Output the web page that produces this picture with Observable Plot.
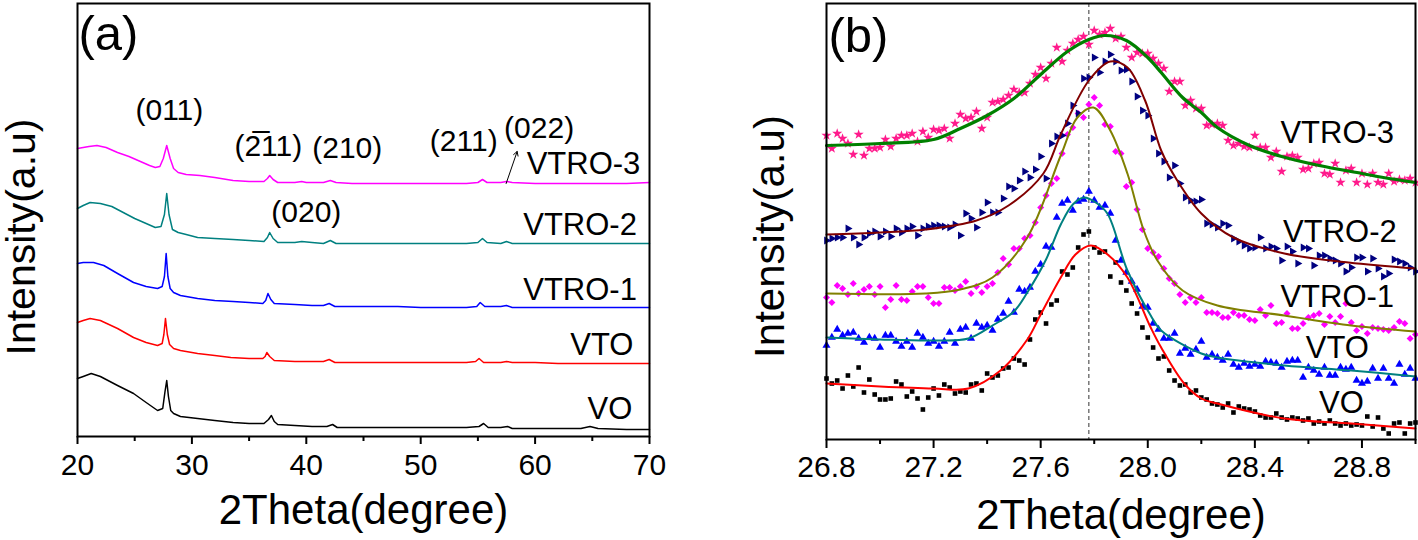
<!DOCTYPE html>
<html><head><meta charset="utf-8">
<script src="https://cdn.jsdelivr.net/npm/d3@7"></script>
<script src="https://cdn.jsdelivr.net/npm/@observablehq/plot@0.6"></script>
<style>
body{margin:0;background:#fff;}
#wrap{display:flex;width:1418px;height:540px;background:#fff;}
#wrap > *{flex:none;}
</style></head><body><div id="wrap"></div>
<script>
const FONT = "'Liberation Sans', Arial, Helvetica, sans-serif";

// ---------- Panel (a): XRD patterns, [2theta, stacked intensity] ----------
const xrdVTRO3 = [[20,288],[20.5,289],[21,290],[21.7,291],[22.5,289],[23.5,284],[24.5,280],[25.5,275],[26.3,271],[26.8,269],[27.2,270],[27.5,278],[27.8,291],[28.1,278],[28.4,268],[28.8,264],[29.5,262],[30.7,261],[32,259],[33.6,256],[35,255],[36.3,255],[36.6,258],[36.8,261],[37.1,257],[37.5,254],[39,254],[39.6,255],[40,254],[41.5,254],[42.1,256],[42.6,254],[44,253],[46,253],[48,253],[50,253],[52,253],[54,253],[55,254],[55.4,257],[55.8,254],[57,254],[57.5,255],[58,254],[60,253],[62,253],[64,253],[66,253],[68,253],[70,254]];
const xrdVTRO2 = [[20,228],[20.5,231],[21.1,234],[22,233],[23,230],[24,224],[25,218],[26,213],[26.8,209],[27.3,210],[27.6,222],[27.8,243],[28,222],[28.3,207],[28.8,204],[29.5,202],[30.5,199],[32,198],[33.6,197],[35,196],[36.3,195],[36.6,199],[36.8,204],[37.1,198],[37.5,194],[39,194],[39.6,195],[40.5,194],[41.5,193],[42.1,196],[42.6,193],[44,193],[46,193],[48,193],[50,193],[52,193],[54,193],[55,194],[55.4,198],[55.8,194],[57,193],[57.5,195],[58,193],[60,193],[62,193],[64,193],[66,193],[68,193],[70,193]];
const xrdVTRO1 = [[20,173],[20.5,174],[21.4,174],[22.3,171],[23.5,163],[24.9,154],[26,150],[27,148],[27.4,150],[27.6,160],[27.75,183],[27.9,160],[28.1,148],[28.4,144],[29,141],[30.5,138],[32,136],[33.6,135],[35,134],[36.2,133],[36.45,136],[36.65,143],[36.9,137],[37.2,133],[39,132],[40.5,131],[41.5,131],[42,133],[42.5,130],[44,130],[46,130],[48,130],[50,129],[52,129],[54,129],[54.9,130],[55.2,134],[55.6,130],[57,130],[57.5,131],[58,129],[60,129],[62,129],[64,129],[66,129],[68,129],[70,129]];
const xrdVTO = [[20,114],[20.5,116],[21.1,118],[22,116],[23.5,108],[24.9,99],[26,94],[27,91],[27.4,93],[27.55,102],[27.69,118],[27.85,102],[28.05,92],[28.4,88],[29,86],[30.5,83],[32,81],[33.4,79],[35,78],[36.2,78],[36.4,80],[36.55,84],[36.8,80],[37.2,76],[39,75],[40.5,75],[41.5,75],[42,77],[42.5,74],[44,74],[46,74],[48,74],[50,74],[52,74],[54,74],[54.8,75],[55.1,78],[55.5,74],[57,74],[57.5,75],[58,74],[60,74],[62,73],[64,73],[66,73],[68,73],[70,73]];
const xrdVO = [[20,58],[20.5,60],[21.2,63],[22,60],[23.5,51],[24.9,43],[26,34],[27,26],[27.45,28],[27.65,45],[27.8,56],[27.95,40],[28.15,26],[28.4,23],[29,20],[30.5,18],[32,16],[33.6,14],[35,13],[36.3,13],[36.7,17],[36.95,21],[37.2,15],[37.5,12],[39,11],[40.5,10],[41.8,10],[42.3,12],[42.7,9],[44,9],[46,9],[48,9],[50,9],[52,9],[54,9],[55.1,10],[55.5,13],[55.9,9],[57,9],[57.6,10],[58,8],[60,8],[62,8],[64,8],[64.8,10],[65.5,8],[68,7],[70,7]];

const ticksA = [20,30,40,50,60,70];
const minorTicksA = [25,35,45,55,65];
const sampleNamesA = ["VTRO-3","VTRO-2","VTRO-1","VTO","VO"];
const sampleLabelXA = [69.2,68.9,68.9,68.6,68.5];
const sampleLabelYA = [272,211,146,91,27];
const peakTextA = ["(011)","(2\u030511)","(210)","(020)","(211)","(022)"];
const peakXA = [28.03,36.68,43.58,40.0,53.76,60.35];
const peakYA = [326,290,288,224,295,308];
const arrow022 = [{x1:57.47,y1:253,x2:58.43,y2:285}];

// ---------- Panel (b): zoom on (011) peak ----------
const thetaB = [26.80,26.82,26.84,26.86,26.88,26.90,26.92,26.94,26.96,26.98,
27.00,27.02,27.04,27.06,27.08,27.10,27.12,27.14,27.16,27.18,
27.20,27.22,27.24,27.26,27.28,27.30,27.32,27.34,27.36,27.38,
27.40,27.42,27.44,27.46,27.48,27.50,27.52,27.54,27.56,27.58,
27.60,27.62,27.64,27.66,27.68,27.70,27.72,27.74,27.76,27.78,
27.80,27.82,27.84,27.86,27.88,27.90,27.92,27.94,27.96,27.98,
28.00,28.02,28.04,28.06,28.08,28.10,28.12,28.14,28.16,28.18,
28.20,28.22,28.24,28.26,28.28,28.30,28.32,28.34,28.36,28.38,
28.40,28.42,28.44,28.46,28.48,28.50,28.52,28.54,28.56,28.58,
28.60,28.62,28.64,28.66,28.68,28.70,28.72,28.74,28.76,28.78,
28.80,28.82,28.84,28.86,28.88,28.90,28.92,28.94,28.96,28.98,29.00];

const ptsVO = [61,56,59,51,64,53,72,47,60,45, 40,40,41,58,55,43,48,41,30,42, 51,44,55,52,46,48,47,55,56,49, 66,62,64,71,72,81,79,75,100,120, 127,116,135,139,
168,165,172,192,205,208,192,187,188,163, 177,157,149,136,126,112,102,92,81,83, 69,59,54,55,47,49,
42,40,36,35,32,36,27,33,31,30, 28,24,22,22,26,22,20,22,21,19, 21,16,18,16,19,16,14,16,14,15, 14,23,13,22,11,6,16,17,6,16, 17];
const ptsVTO = [94,102,110,104,106,107,101,97,102,101, 92,104,104,98,93,98,92,106,102,96, 98,93,98,107,96,110,
112,101,116,112,114,109,120,126,138,127, 150,148,152,168,175,193,192,222,
236,239,229,238,240,248,239,232,234,226,
199,179,167,158,150,133,132,116,110,101,101,106,
86,91,85,90,98,82,85,82,79,85, 75,72,76,73,75,73,78,77,76,72, 78,79,79,62,72,69,65,72,64,64, 72,70,72,59,56,58,71,61,71,61, 56,75,65,71,61];
const ptsVTRO1 = [142,137,154,151,145,156,146,150,153,145, 153,132,140,154,140,139,148,153,153,142, 136,136,152,152,149,153,158,146,153,147, 153,156,167,181,175,191,191,201,204,217, 232,244,256,261,286,
305,312,326,322,335,342,334,315,313,288, 286,253,257,230,210,191,187,183,
171,161,156,145,137,142,137,142,127,127, 126,122,122,127,124,124,120,119,130,124, 134,116,117,126,111,111,116,122,124,126, 115,123,117,123,136,117,109,113,106,112, 111,110,109,112,118,116,101,105];
const ptsVTRO2 = [199,201,202,202,211,202,195,202,206,208, 203,208,203,211,207,211,213,204,211,213, 214,214,213,212,215,204,
226,221,212,227,237,227,227,241,253,251, 259,268,262,270,283,261,296,303,304,316, 334,326,361,362,382,367,378,385,378,369, 370,358,343,329,324,301,286,278,262,274, 256,
242,239,238,240,216,215,212,216,214,201, 198,194,191,192,202,191,193,191,179,193, 188,176,192,191,174,184,184,181,179,176, 168,172,182,182,168,181,171,163,166,180, 178,176,172,168];
const ptsVTRO3 = [304,291,306,301,296,285,305,284,291,291, 292,300,293,301,304,304,306,298,308,302, 310,309,311,301,316,325,321,322,328,311, 322,337,338,340,344,350,347,347,356,365, 372,361,376,392,
378,389,396,400,403,395,409,405,407,411, 401,403,392,382,387,386,386,381,376,371, 348,358,358,
334,339,331,331,314,315,316,314,299,294, 296,293,292,304,292,292,282,288,268,283, 284,282,270,271,276,277,266,265,276,257, 269,271,257,266,255,266,257,255,266,258, 260,259,261,257];

const fitVO = [[26.8,56],[27.0,53],[27.2,51],[27.33,51],[27.45,69],[27.55,100],[27.6,125],[27.675,162],[27.73,185],[27.787,194],[27.85,185],[27.924,162],[28.011,112],[28.05,92],[28.136,56],[28.2,41],[28.26,36],[28.51,21],[28.76,16],[29.0,11]];
const fitVTO = [[26.8,102],[27.0,100],[27.2,99],[27.33,101],[27.42,114],[27.5,128],[27.55,147],[27.62,180],[27.675,215],[27.72,235],[27.762,242],[27.8,238],[27.849,226],[27.924,169],[28.011,124],[28.05,109],[28.2,86],[28.26,82],[28.51,74],[28.76,69],[29.0,63]];
const fitVTRO1 = [[26.8,146],[27.17,146],[27.3,150],[27.42,162],[27.55,202],[27.675,284],[27.737,322],[27.797,332],[27.86,309],[27.924,266],[27.985,209],[28.036,179],[28.13,149],[28.26,134],[28.51,124],[28.76,114],[29.0,108]];
const fitVTRO2 = [[26.8,205],[27.0,207],[27.17,210],[27.36,219],[27.48,234],[27.61,266],[27.675,305],[27.78,359],[27.86,378],[27.924,372],[27.99,339],[28.05,289],[28.11,259],[28.2,226],[28.32,202],[28.51,186],[28.75,177],[29.0,171]];
const fitVTRO3 = [[26.8,294],[27.0,296],[27.2,300],[27.3,311],[27.4,324],[27.5,341],[27.6,365],[27.7,388],[27.78,400],[27.84,404],[27.92,399],[28.0,382],[28.05,367],[28.13,342],[28.2,327],[28.26,312],[28.38,294],[28.5,283],[28.64,274],[28.8,266],[28.88,262],[29.0,257]];

const ticksB = [26.8,27.2,27.6,28.0,28.4,28.8];
const minorTicksB = [27.0,27.4,27.8,28.2,28.6,29.0];
const refLineB = [27.78];
const sampleNamesB = ["VTRO-3","VTRO-2","VTRO-1","VTO","VO"];
const sampleLabelXB = [28.92,28.93,28.92,28.826,28.807];
const sampleLabelYB = [306,207,142,91,36];

// ---------- build tables ----------
const toRows = pts => pts.map(([x, y]) => ({x, y}));
const scatter = vals => thetaB.map((t, i) => ({x: t, y: vals[i]}));
const labelRows = (names, xs, ys) => names.map((t, i) => ({text: t, x: xs[i], y: ys[i]}));

const panelA = Plot.plot({
  width: 709, height: 540,
  marginLeft: 77, marginRight: 60, marginTop: 3, marginBottom: 104,
  style: {fontFamily: FONT, background: "#fff", color: "#000", overflow: "visible"},
  x: {domain: [20, 70]},
  y: {domain: [0, 433], axis: null},
  marks: [
    Plot.line(toRows(xrdVO), {x: "x", y: "y", stroke: "#000000", strokeWidth: 1.5}),
    Plot.line(toRows(xrdVTO), {x: "x", y: "y", stroke: "#ff0000", strokeWidth: 1.5}),
    Plot.line(toRows(xrdVTRO1), {x: "x", y: "y", stroke: "#0000ff", strokeWidth: 1.5}),
    Plot.line(toRows(xrdVTRO2), {x: "x", y: "y", stroke: "#008080", strokeWidth: 1.5}),
    Plot.line(toRows(xrdVTRO3), {x: "x", y: "y", stroke: "#ff00ff", strokeWidth: 1.5}),
    Plot.frame({stroke: "#000", strokeWidth: 2}),
    Plot.axisX({ticks: ticksA, tickSize: 8, tickPadding: 9, fontSize: 30, strokeWidth: 2, label: null, tickFormat: d => String(d)}),
    Plot.axisX({ticks: minorTicksA, tickSize: 5, strokeWidth: 2, label: null, tickFormat: () => ""}),
    Plot.text(labelRows(sampleNamesA, sampleLabelXA, sampleLabelYA), {x: "x", y: "y", text: "text", textAnchor: "end", fontSize: 31, fill: "#000"}),
    Plot.text(labelRows(peakTextA, peakXA, peakYA), {x: "x", y: "y", text: "text", fontSize: 30, fill: "#000"}),
    Plot.arrow(arrow022, {x1: "x1", y1: "y1", x2: "x2", y2: "y2", stroke: "#000", strokeWidth: 1, headLength: 7}),
    Plot.text(["(a)"], {frameAnchor: "top-left", textAnchor: "start", lineAnchor: "middle", dx: 1, dy: 31, fontSize: 49, fill: "#000"}),
    Plot.text(["2Theta(degree)"], {frameAnchor: "bottom", lineAnchor: "middle", dy: 74, fontSize: 42, fill: "#000"}),
    Plot.text(["Intensity(a.u)"], {frameAnchor: "left", rotate: -90, lineAnchor: "middle", textAnchor: "middle", dx: -56, dy: 17, fontSize: 41, fill: "#000"})
  ]
});

const panelB = Plot.plot({
  width: 709, height: 540,
  marginLeft: 117, marginRight: 3, marginTop: 3, marginBottom: 101,
  style: {fontFamily: FONT, background: "#fff", color: "#000", overflow: "visible"},
  x: {domain: [26.8, 29.0]},
  y: {domain: [0, 436], axis: null},
  marks: [
    Plot.ruleX(refLineB, {stroke: "#333", strokeWidth: 1, strokeDasharray: "4,3"}),
    Plot.dot(scatter(ptsVO), {x: "x", y: "y", symbol: "square", r: 2.6, fill: "#000000", stroke: "none"}),
    Plot.dot(scatter(ptsVTO), {x: "x", y: "y", symbol: "triangle", r: 3, fill: "#0000ff", stroke: "none"}),
    Plot.dot(scatter(ptsVTRO1), {x: "x", y: "y", symbol: "square", rotate: 45, r: 2.8, fill: "#ff00ff", stroke: "none"}),
    Plot.dot(scatter(ptsVTRO2), {x: "x", y: "y", symbol: "triangle", rotate: 90, r: 3, fill: "#000080", stroke: "none"}),
    Plot.dot(scatter(ptsVTRO3), {x: "x", y: "y", symbol: "star", r: 3.2, fill: "#ff1a8c", stroke: "none"}),
    Plot.line(toRows(fitVO), {x: "x", y: "y", stroke: "#ff0000", strokeWidth: 2, curve: "catmull-rom"}),
    Plot.line(toRows(fitVTO), {x: "x", y: "y", stroke: "#008080", strokeWidth: 2, curve: "catmull-rom"}),
    Plot.line(toRows(fitVTRO1), {x: "x", y: "y", stroke: "#808000", strokeWidth: 2, curve: "catmull-rom"}),
    Plot.line(toRows(fitVTRO2), {x: "x", y: "y", stroke: "#800000", strokeWidth: 2, curve: "catmull-rom"}),
    Plot.line(toRows(fitVTRO3), {x: "x", y: "y", stroke: "#008000", strokeWidth: 3.2, curve: "catmull-rom"}),
    Plot.frame({stroke: "#000", strokeWidth: 2}),
    Plot.axisX({ticks: ticksB, tickSize: 9, tickPadding: 7, fontSize: 30, strokeWidth: 2, label: null, tickFormat: d3.format(".1f")}),
    Plot.axisX({ticks: minorTicksB, tickSize: 5, strokeWidth: 2, label: null, tickFormat: () => ""}),
    Plot.text(labelRows(sampleNamesB, sampleLabelXB, sampleLabelYB), {x: "x", y: "y", text: "text", textAnchor: "end", fontSize: 31, fill: "#000"}),
    Plot.text(["(b)"], {frameAnchor: "top-left", textAnchor: "start", lineAnchor: "middle", dx: 2, dy: 33, fontSize: 49, fill: "#000"}),
    Plot.text(["2Theta(degree)"], {frameAnchor: "bottom", lineAnchor: "middle", dy: 76, fontSize: 42, fill: "#000"}),
    Plot.text(["Intensity(a.u)"], {frameAnchor: "left", rotate: -90, lineAnchor: "middle", textAnchor: "middle", dx: -56, dy: 15, fontSize: 42, fill: "#000"})
  ]
});

document.getElementById("wrap").append(panelA, panelB);
</script></body></html>
